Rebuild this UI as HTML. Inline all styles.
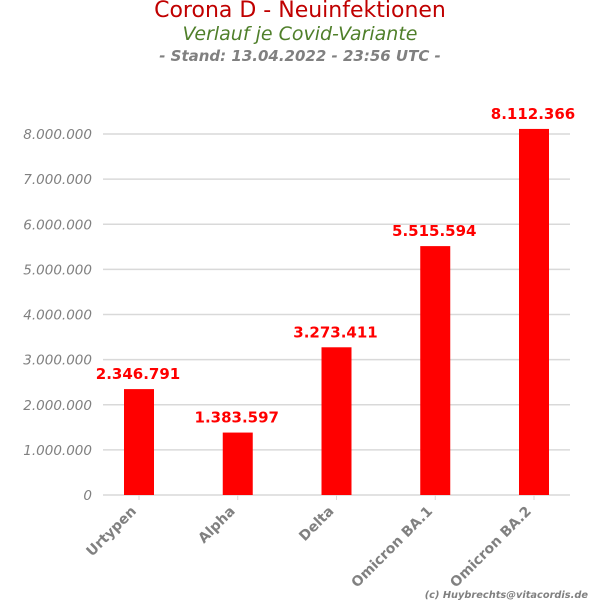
<!DOCTYPE html>
<html><head><meta charset="utf-8"><style>
body{margin:0;background:#fff;}
svg{display:block;font-family:"DejaVu Sans",sans-serif;}
</style></head><body>
<svg id="chart" width="600" height="600">
<text x="300" y="17" text-anchor="middle" font-size="22" fill="#c00000">Corona D - Neuinfektionen</text>
<text x="300" y="40" text-anchor="middle" font-size="19" font-style="italic" fill="#4f7f2a">Verlauf je Covid-Variante</text>
<text x="300" y="61" text-anchor="middle" font-size="15" font-style="italic" font-weight="bold" fill="#808080">- Stand: 13.04.2022 - 23:56 UTC -</text>
<g id="grid"></g><g id="bars"></g><g id="labels"></g>
<text x="588" y="598" text-anchor="end" font-size="9.8" font-style="italic" font-weight="bold" fill="#808080">(c) Huybrechts@vitacordis.de</text>
</svg>
<script>
const categories=["Urtypen","Alpha","Delta","Omicron BA.1","Omicron BA.2"];
const values=[2346791,1383597,3273411,5515594,8112366];
const valueLabels=["2.346.791","1.383.597","3.273.411","5.515.594","8.112.366"];
const ticks=[0,1000000,2000000,3000000,4000000,5000000,6000000,7000000,8000000];
const tickLabels=["0","1.000.000","2.000.000","3.000.000","4.000.000","5.000.000","6.000.000","7.000.000","8.000.000"];
const NS="http://www.w3.org/2000/svg";
function y(v){return 495-v*(361/8000000);}
function x(i){return 139+i*98.75;}
function mk(t,a,p){const e=document.createElementNS(NS,t);for(const k in a)e.setAttribute(k,a[k]);p.appendChild(e);return e;}
const grid=document.getElementById('grid'),bars=document.getElementById('bars'),labels=document.getElementById('labels');
ticks.forEach((t,i)=>{
 const l=mk('line',{x1:103,x2:570,y1:y(t),y2:y(t),stroke:'#d9d9d9','stroke-width':1.5},grid);
 
 
 const tx=mk('text',{x:92,y:y(t)+5,'text-anchor':'end','font-size':13.5,'font-style':'italic',fill:'#808080'},grid);
 tx.textContent=tickLabels[i];
 
 
});
values.forEach((v,i)=>{
 const r=mk('rect',{x:x(i)-15,y:y(v),width:30,height:495-y(v),fill:'#ff0000'},bars);
 
 
 const vl=mk('text',{x:x(i)-1,y:y(v)-10,'text-anchor':'middle','font-size':15,'font-weight':'bold',fill:'#ff0000'},labels);
 vl.textContent=valueLabels[i];
 
 
 const tk=mk('line',{x1:x(i),x2:x(i),y1:495,y2:500,stroke:'#d9d9d9'},grid);
 
 
 const xl=mk('text',{x:x(i)-2,y:512,'text-anchor':'end','font-size':14,'font-weight':'bold',fill:'#808080',transform:'rotate(-45 '+(x(i)-2)+' 512)'},labels);
 xl.textContent=categories[i];
 
 
});
</script>
</body></html>
